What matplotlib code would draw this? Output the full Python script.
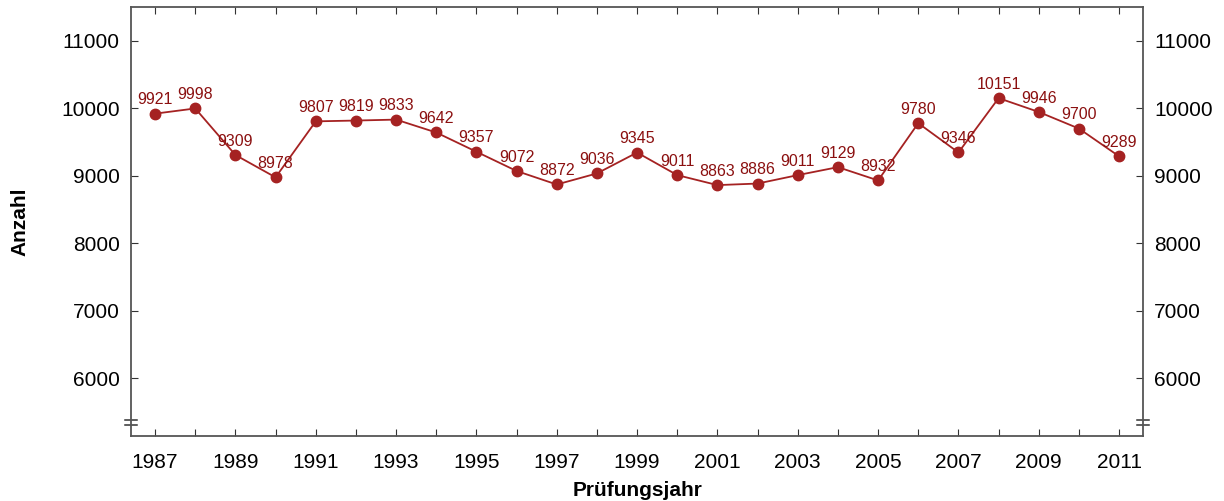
import matplotlib
matplotlib.use("Agg")
import matplotlib.pyplot as plt

plt.rcParams["font.family"] = ["Liberation Sans", "DejaVu Sans"]

years = list(range(1987, 2012))
counts = [9921, 9998, 9309, 8978, 9807, 9819, 9833, 9642, 9357, 9072, 8872, 9036,
          9345, 9011, 8863, 8886, 9011, 9129, 8932, 9780, 9346, 10151, 9946, 9700, 9289]
yticks = [6000, 7000, 8000, 9000, 10000, 11000]
xticks = list(range(1987, 2012, 2))

LINE = "#a52222"
LAB = "#8b1010"

fig = plt.figure(figsize=(12.24, 5.01), dpi=100)
ax = fig.add_axes([0.107, 0.13, 0.827, 0.856])
ax.plot(years, counts, color=LINE, lw=1.3, marker="o", ms=7.5, zorder=3)
for x, y in zip(years, counts):
    ax.annotate(str(y), (x, y), xytext=(0, 4.5), textcoords="offset points",
                ha="center", va="bottom", fontsize=11.5, color=LAB)

ax.set_xlim(1986.4, 2011.6)
ax.set_ylim(5150, 11500)
ax.set_yticks(yticks)
ax.set_xticks(years)
ax.set_xticklabels([str(y) if y in xticks else "" for y in years])
ax.tick_params(axis="both", direction="in", labelsize=15, length=5, color="#333333",
               top=True, right=True, labelright=True)
ax.tick_params(axis="x", pad=12)
ax.tick_params(axis="y", pad=8)
for s in ax.spines.values():
    s.set_color("#555555")
    s.set_linewidth(1.3)

# Achsenbruch-Markierungen
for xa in (0, 1):
    for yb in (0.025, 0.037):
        ax.plot([xa - 0.006, xa + 0.006], [yb, yb], transform=ax.transAxes,
                color="#333333", lw=1.1, clip_on=False)

ax.set_ylabel("Anzahl", fontsize=15, fontweight="bold", labelpad=23)
ax.set_xlabel("Prüfungsjahr", fontsize=15, fontweight="bold", labelpad=7)

fig.savefig("out.png", dpi=100)
